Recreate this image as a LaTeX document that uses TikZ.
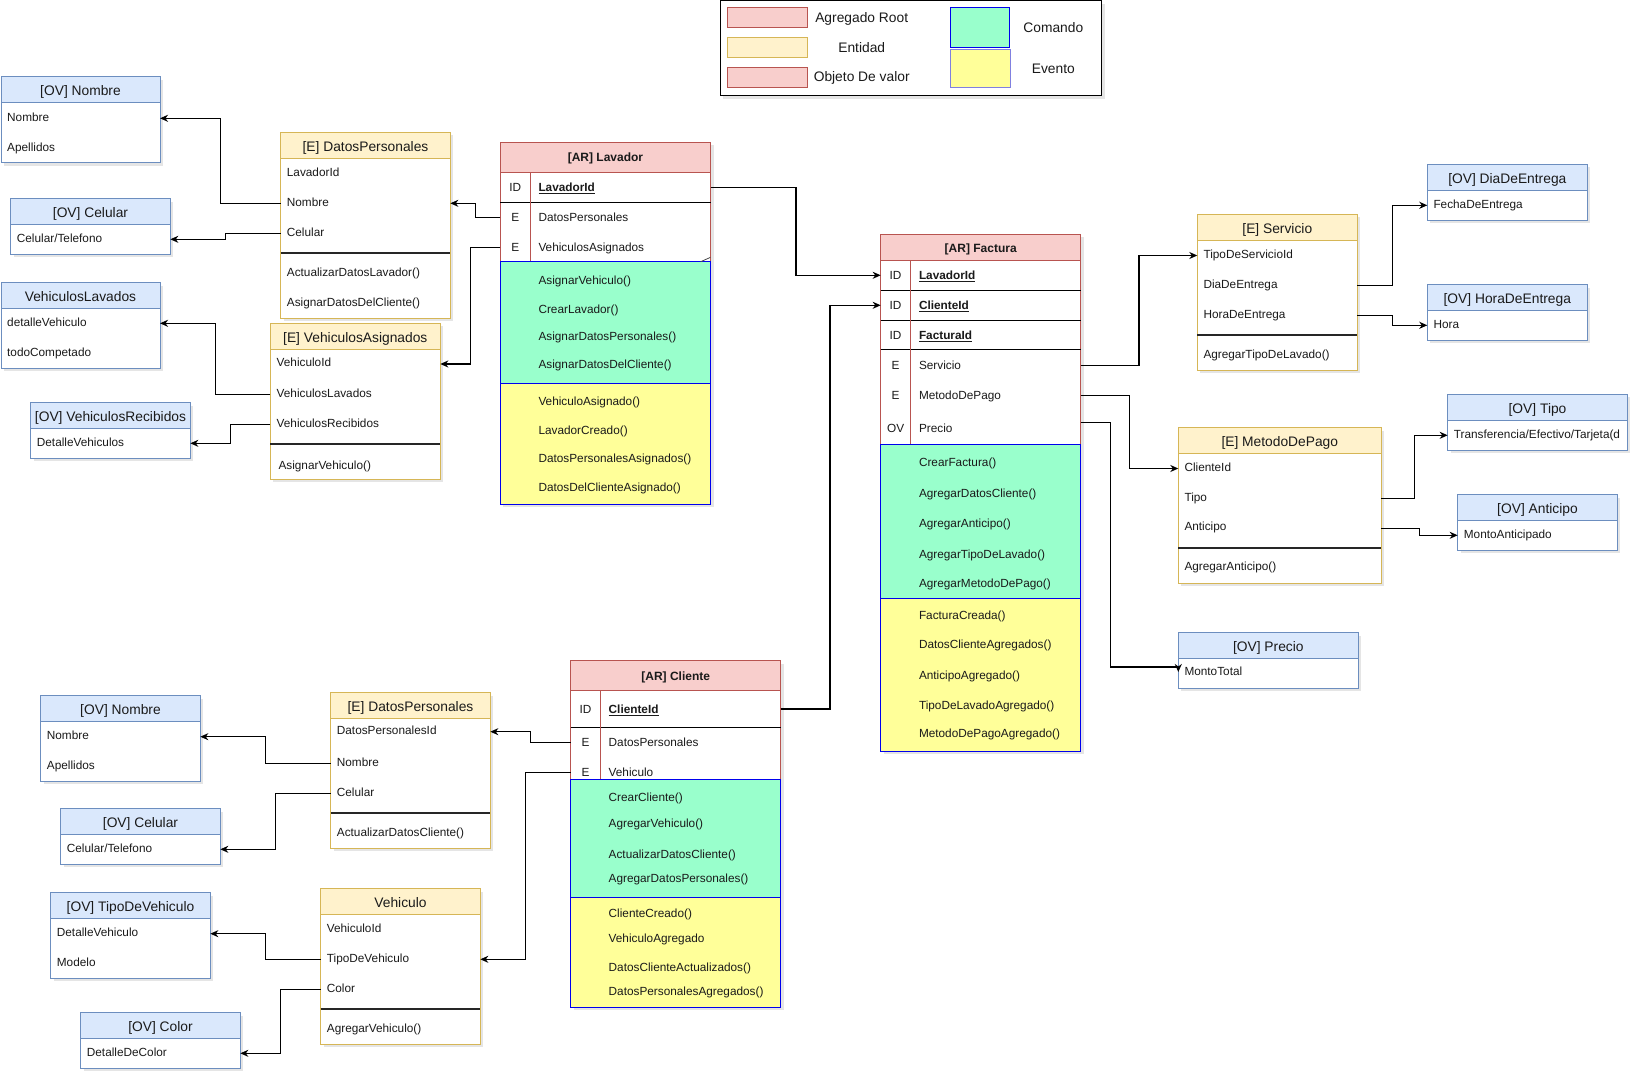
\documentclass[tikz,border=0pt]{standalone}
\usepackage{fontspec}
\setmainfont{Liberation Sans}
\usetikzlibrary{arrows.meta}

\definecolor{ovfill}{HTML}{DAE8FC}
\definecolor{ovline}{HTML}{6C8EBF}
\definecolor{efill}{HTML}{FFF2CC}
\definecolor{eline}{HTML}{D6B656}
\definecolor{arfill}{HTML}{F8CECC}
\definecolor{arline}{HTML}{B85450}
\definecolor{cmdfill}{HTML}{99FFCC}
\definecolor{cmdline}{HTML}{0000EE}
\definecolor{evtfill}{HTML}{FFFF99}
\definecolor{evtline}{HTML}{8080E0}
\definecolor{txt}{HTML}{1A1A1A}

\newcommand\rwfont{\fontsize{11.8}{14}\selectfont}
\newcommand\hdfont{\fontsize{13.8}{16}\selectfont}
\newcommand\arhdfont{\bfseries\fontsize{12}{14}\selectfont}

% value-object box: name, x1, y1, x2, y2, header bottom, title
\newcommand\ovbox[7]{%
  \fill[boxshadow] (#2+3,#3+3) rectangle (#4+3,#5+3);
  \node[box, draw=ovline, fill=white, minimum width={#4-#2}, minimum height={#5-#3}]
    (#1) at ({(#2+#4)/2},{(#3+#5)/2}) {};
  \node[box, draw=ovline, fill=ovfill, minimum width={#4-#2}, minimum height={#6-#3}, ttl]
    (#1-h) at ({(#2+#4)/2},{(#3+#6)/2}) {#7};
}
% entity box: name, x1, y1, x2, y2, header bottom, title, separator
\newcommand\entbox[8]{%
  \fill[boxshadow] (#2+3,#3+3) rectangle (#4+3,#5+3);
  \node[box, draw=eline, fill=white, minimum width={#4-#2}, minimum height={#5-#3}]
    (#1) at ({(#2+#4)/2},{(#3+#5)/2}) {};
  \node[box, draw=eline, fill=efill, minimum width={#4-#2}, minimum height={#6-#3}, ttl]
    (#1-h) at ({(#2+#4)/2},{(#3+#6)/2}) {#7};
  \draw[sepline] (#2,#8) -- (#4,#8);
}

\begin{document}
\begin{tikzpicture}[x=1pt,y=-1pt,
  box/.style={inner sep=0pt, outer sep=0pt, line width=1pt},
  boxshadow/.style={fill=black, opacity=0.10},
  ttl/.style={font=\hdfont, text=txt, text height=12pt, text depth=0.2pt},
  arttl/.style={font=\arhdfont, text=txt, text height=9.6pt, text depth=0.2pt},
  row/.style={anchor=west, inner sep=0pt, font=\rwfont, text=txt, text height=8.5pt, text depth=3pt},
  arow/.style={anchor=west, inner sep=0pt, font=\rwfont, text=txt, text height=8.5pt, text depth=0pt},
  cell/.style={anchor=center, inner sep=0pt, font=\rwfont, text=txt, text height=8.5pt, text depth=0pt},
  lgtxt/.style={anchor=center, inner sep=0pt, font=\hdfont, text=txt},
  sepline/.style={line width=2pt, black!85},
  idline/.style={line width=1pt, black},
  arr/.style={line width=1.3pt, black, -{Stealth[length=8pt,width=7pt,inset=2.5pt]}}
]
\useasboundingbox (0,0) rectangle (1639,1083);
\fill[white] (0,0) rectangle (1639,1083);

% ---------------- legend ----------------
\fill[boxshadow] (723,4) rectangle (1104.7,98.7);
\node[box, draw=black, fill=white, minimum width=381.7, minimum height=94.7] (legend) at (910.85,48.35) {};
\node[box, draw=arline, fill=arfill, minimum width=80, minimum height=20] (lg-ar) at (767.3,17.3) {};
\node[lgtxt] (lg-ar-t) at (861.7,18.5) {Agregado Root};
\node[box, draw=eline, fill=efill, minimum width=80, minimum height=20] (lg-e) at (767.3,47.3) {};
\node[lgtxt] (lg-e-t) at (861.7,48) {Entidad};
\node[box, draw=arline, fill=arfill, minimum width=80, minimum height=20] (lg-ov) at (767.3,77.3) {};
\node[lgtxt] (lg-ov-t) at (861.7,78) {Objeto De valor};
\node[box, draw=cmdline, fill=cmdfill, minimum width=59.4, minimum height=40] (lg-c) at (980,27.3) {};
\node[lgtxt] (lg-c-t) at (1053.3,28) {Comando};
\node[box, draw=evtline, fill=evtfill, minimum width=59.3, minimum height=37.3] (lg-v) at (980.35,68.65) {};
\node[lgtxt] (lg-v-t) at (1053.3,69) {Evento};

% ---------------- value objects ----------------
\ovbox{ovN1}{1}{77}{160}{163}{103}{[OV] Nombre}
\node[row] (n1-nom) at (7,118.3) {Nombre};
\node[row] (n1-ape) at (7,148.3) {Apellidos};

\ovbox{ovC1}{10.7}{198.7}{170.3}{254.3}{224.3}{[OV] Celular}
\node[row] (c1-cel) at (16.7,239.3) {Celular/Telefono};

\ovbox{ovVL}{1}{282.7}{160}{368.3}{308.3}{VehiculosLavados}
\node[row] (vl-det) at (7,323.3) {detalleVehiculo};
\node[row] (vl-tod) at (7,353.3) {todoCompetado};

\ovbox{ovVR}{30.7}{402.7}{190.3}{458.3}{428.3}{[OV] VehiculosRecibidos}
\node[row] (vr-det) at (36.7,443.3) {DetalleVehiculos};

\ovbox{ovDia}{1427.3}{164.3}{1587.3}{220.3}{190.3}{[OV] DiaDeEntrega}
\node[row] (dia-f) at (1433.3,205.3) {FechaDeEntrega};

\ovbox{ovHora}{1427.3}{284.7}{1587.3}{340.3}{310.7}{[OV] HoraDeEntrega}
\node[row] (hora-h) at (1433.3,325.3) {Hora};

\ovbox{ovTipo}{1447.7}{394.3}{1627.3}{450.3}{420.3}{[OV] Tipo}
\begin{scope}
  \clip (1448.3,421) rectangle (1624.5,449.7);
  \node[row] (tipo-t) at (1453.7,435.3) {Transferencia/Efectivo/Tarjeta(d};
\end{scope}

\ovbox{ovAnt}{1457.7}{494.7}{1617.3}{550.3}{520.3}{[OV] Anticipo}
\node[row] (ant-m) at (1463.7,535.3) {MontoAnticipado};

\ovbox{ovP}{1178.3}{632.7}{1358.3}{688}{658.3}{[OV] Precio}
\node[row] (p-monto) at (1184.3,673.2) {MontoTotal};

\ovbox{ovN2}{40.7}{695.7}{200.3}{781.3}{721.7}{[OV] Nombre}
\node[row] (n2-nom) at (46.7,736.7) {Nombre};
\node[row] (n2-ape) at (46.7,766.3) {Apellidos};

\ovbox{ovC2}{60.7}{808.7}{220.3}{864}{834.3}{[OV] Celular}
\node[row] (c2-cel) at (66.7,849.3) {Celular/Telefono};

\ovbox{ovTV}{50.7}{892.7}{210.3}{978.3}{918.7}{[OV] TipoDeVehiculo}
\node[row] (tv-det) at (56.7,933.7) {DetalleVehiculo};
\node[row] (tv-mod) at (56.7,963.3) {Modelo};

\ovbox{ovCol}{80.7}{1012.7}{240.3}{1068.3}{1038.7}{[OV] Color}
\node[row] (col-det) at (86.7,1053.3) {DetalleDeColor};

% ---------------- entities ----------------
\entbox{eDP1}{280.7}{132.3}{450.3}{318.3}{158.3}{[E] DatosPersonales}{253.3}
\node[row] (dp1-lav) at (286.7,173.3) {LavadorId};
\node[row] (dp1-nom) at (286.7,203.3) {Nombre};
\node[row] (dp1-cel) at (286.7,233.3) {Celular};
\node[row] (dp1-act) at (286.7,273.3) {ActualizarDatosLavador()};
\node[row] (dp1-asi) at (286.7,303.3) {AsignarDatosDelCliente()};

\entbox{eVA}{270.3}{323.3}{440.3}{479.3}{349.3}{[E] VehiculosAsignados}{444.3}
\node[row] (va-vid) at (276.5,364) {VehiculoId};
\node[row] (va-vl) at (276.5,394.3) {VehiculosLavados};
\node[row] (va-vr) at (276.5,424.3) {VehiculosRecibidos};
\node[row] (va-asi) at (278.3,466.5) {AsignarVehiculo()};

\entbox{eServ}{1197.3}{214.3}{1357.3}{370.3}{240.7}{[E] Servicio}{335}
\node[row] (sv-tipo) at (1203.3,255.5) {TipoDeServicioId};
\node[row] (sv-dia) at (1203.3,285.3) {DiaDeEntrega};
\node[row] (sv-hora) at (1203.3,315.3) {HoraDeEntrega};
\node[row] (sv-agr) at (1203.3,355.5) {AgregarTipoDeLavado()};

\entbox{eMP}{1178.3}{427.7}{1381.3}{583.3}{453.3}{[E] MetodoDePago}{548.3}
\node[row] (mp-cid) at (1184.3,468.5) {ClienteId};
\node[row] (mp-tipo) at (1184.3,498.3) {Tipo};
\node[row] (mp-ant) at (1184.3,528.2) {Anticipo};
\node[row] (mp-agr) at (1184.3,568.2) {AgregarAnticipo()};

\entbox{eDP2}{330.7}{692.7}{490.3}{848.3}{718.7}{[E] DatosPersonales}{813.3}
\node[row] (dp2-id) at (336.7,731.7) {DatosPersonalesId};
\node[row] (dp2-nom) at (336.7,763.3) {Nombre};
\node[row] (dp2-cel) at (336.7,793.3) {Celular};
\node[row] (dp2-act) at (336.7,833.3) {ActualizarDatosCliente()};

\entbox{eVeh}{320.7}{888.7}{480.3}{1044}{914.7}{Vehiculo}{1009.3}
\node[row] (veh-id) at (326.7,929.3) {VehiculoId};
\node[row] (veh-tipo) at (326.7,959.3) {TipoDeVehiculo};
\node[row] (veh-col) at (326.7,989.3) {Color};
\node[row] (veh-agr) at (326.7,1029.3) {AgregarVehiculo()};

% ---------------- [AR] Lavador ----------------
\fill[boxshadow] (503.3,145.3) rectangle (713.7,507);
\node[box, draw=arline, fill=white, minimum width=210.4, minimum height=361.7] (arL) at (605.5,323.15) {};
\node[box, draw=arline, fill=arfill, minimum width=210.4, minimum height=30, arttl] (arL-h) at (605.5,157.3) {[AR] Lavador};
\draw[idline] (500.3,202.3) -- (710.7,202.3);
\draw[arline, line width=1pt] (530.3,172.3) -- (530.3,262);
\node[box, draw=cmdline, fill=cmdfill, minimum width=210.4, minimum height=121.3] (arL-cmd) at (605.5,322.65) {};
\node[box, draw=cmdline, fill=evtfill, minimum width=210.4, minimum height=120.7] (arL-evt) at (605.5,443.65) {};
\draw[black!70, line width=0.8pt] (700.7,261.7) -- (710.5,257.3);
\node[cell] (L-c1) at (515.3,187.5) {ID};
\node[cell] (L-c2) at (515.3,217.5) {E};
\node[cell] (L-c3) at (515.3,247.5) {E};
\node[arow] (L-lid) at (538.3,187.5) {\underline{\textbf{LavadorId}}};
\node[arow] (L-dp) at (538.3,217.5) {DatosPersonales};
\node[arow] (L-va) at (538.3,247.5) {VehiculosAsignados};
\node[row] (L-m1) at (538.3,282.2) {AsignarVehiculo()};
\node[row] (L-m2) at (538.3,310.8) {CrearLavador()};
\node[row] (L-m3) at (538.3,337.5) {AsignarDatosPersonales()};
\node[row] (L-m4) at (538.3,365.5) {AsignarDatosDelCliente()};
\node[row] (L-e1) at (538.3,403.2) {VehiculoAsignado()};
\node[row] (L-e2) at (538.3,431.5) {LavadorCreado()};
\node[row] (L-e3) at (538.3,459.8) {DatosPersonalesAsignados()};
\node[row] (L-e4) at (538.3,489.2) {DatosDelClienteAsignado()};

% ---------------- [AR] Factura ----------------
\fill[boxshadow] (883.7,237.4) rectangle (1083.7,754);
\node[box, draw=arline, fill=white, minimum width=200, minimum height=516.6] (arF) at (980.7,492.7) {};
\node[box, draw=arline, fill=arfill, minimum width=200, minimum height=26, arttl] (arF-h) at (980.7,247.4) {[AR] Factura};
\draw[idline] (880.7,290.2) -- (1080.7,290.2);
\draw[idline] (880.7,320.2) -- (1080.7,320.2);
\draw[idline] (880.7,350) -- (1080.7,350);
\draw[arline, line width=1pt] (910.5,260.4) -- (910.5,444);
\node[box, draw=cmdline, fill=cmdfill, minimum width=200, minimum height=154.4] (arF-cmd) at (980.7,521.2) {};
\node[box, draw=cmdline, fill=evtfill, minimum width=200, minimum height=152.6] (arF-evt) at (980.7,674.7) {};
\node[cell] (F-c1) at (895.6,275.3) {ID};
\node[cell] (F-c2) at (895.6,305.3) {ID};
\node[cell] (F-c3) at (895.6,335.2) {ID};
\node[cell] (F-c4) at (895.6,365.3) {E};
\node[cell] (F-c5) at (895.6,395.7) {E};
\node[cell] (F-c6) at (895.6,428.6) {OV};
\node[arow] (F-lid) at (918.8,275.3) {\underline{\textbf{LavadorId}}};
\node[arow] (F-cid) at (918.8,305.3) {\underline{\textbf{ClienteId}}};
\node[arow] (F-fid) at (918.8,335.2) {\underline{\textbf{FacturaId}}};
\node[arow] (F-serv) at (918.8,365.3) {Servicio};
\node[arow] (F-mp) at (918.8,395.7) {MetodoDePago};
\node[arow] (F-pre) at (918.8,428.6) {Precio};
\node[row] (F-m1) at (918.8,463.3) {CrearFactura()};
\node[row] (F-m2) at (918.8,495) {AgregarDatosCliente()};
\node[row] (F-m3) at (918.8,525) {AgregarAnticipo()};
\node[row] (F-m4) at (918.8,555.3) {AgregarTipoDeLavado()};
\node[row] (F-m5) at (918.8,585.1) {AgregarMetodoDePago()};
\node[row] (F-e1) at (918.8,617) {FacturaCreada()};
\node[row] (F-e2) at (918.8,645.5) {DatosClienteAgregados()};
\node[row] (F-e3) at (918.8,677.2) {AnticipoAgregado()};
\node[row] (F-e4) at (918.8,707.2) {TipoDeLavadoAgregado()};
\node[row] (F-e5) at (918.8,734.7) {MetodoDePagoAgregado()};

% ---------------- [AR] Cliente ----------------
\fill[boxshadow] (573.7,663.7) rectangle (783.7,1010.3);
\node[box, draw=arline, fill=white, minimum width=210, minimum height=346.6] (arC) at (675.7,834) {};
\node[box, draw=arline, fill=arfill, minimum width=210, minimum height=30, arttl] (arC-h) at (675.7,675.7) {[AR] Cliente};
\draw[idline] (570.7,727.3) -- (780.7,727.3);
\draw[arline, line width=1pt] (600.3,690.7) -- (600.3,779.3);
\node[box, draw=cmdline, fill=cmdfill, minimum width=210, minimum height=118] (arC-cmd) at (675.7,838.3) {};
\node[box, draw=cmdline, fill=evtfill, minimum width=210, minimum height=110] (arC-evt) at (675.7,952.3) {};
\node[cell] (C-c1) at (585.5,709) {ID};
\node[cell] (C-c2) at (585.5,742.5) {E};
\node[cell] (C-c3) at (585.5,772.5) {E};
\node[arow] (C-cid) at (608.5,709) {\underline{\textbf{ClienteId}}};
\node[arow] (C-dp) at (608.5,742.5) {DatosPersonales};
\node[arow] (C-veh) at (608.5,772.5) {Vehiculo};
\node[row] (C-m1) at (608.5,798.5) {CrearCliente()};
\node[row] (C-m2) at (608.5,824.8) {AgregarVehiculo()};
\node[row] (C-m3) at (608.5,855.8) {ActualizarDatosCliente()};
\node[row] (C-m4) at (608.5,879.8) {AgregarDatosPersonales()};
\node[row] (C-e1) at (608.5,915.2) {ClienteCreado()};
\node[row] (C-e2) at (608.5,940.2) {VehiculoAgregado};
\node[row] (C-e3) at (608.5,969.2) {DatosClienteActualizados()};
\node[row] (C-e4) at (608.5,992.5) {DatosPersonalesAgregados()};

% ---------------- connectors ----------------
\draw[arr] (arL.east |- L-lid) -- ++(85.2,0) |- (arF.west |- F-lid);
\draw[arr] (arC.east |- C-cid) -- ++(49.3,0) |- (arF.west |- F-cid);
\draw[arr] (arL.west |- L-dp) -- ++(-25,0) |- (eDP1.east |- dp1-nom);
\draw[arr] (arL.west |- L-va) -- ++(-30,0) |- (eVA.east |- va-vid);
\draw[arr] (eDP1.west |- dp1-nom) -- ++(-60.4,0) |- (ovN1.east |- n1-nom);
\draw[arr] (eDP1.west |- dp1-cel) -- ++(-55,0) |- (ovC1.east |- c1-cel);
\draw[arr] (eVA.west |- va-vl) -- ++(-55,0) |- (ovVL.east |- vl-det);
\draw[arr] (eVA.west |- va-vr) -- ++(-40,0) |- (ovVR.east |- vr-det);
\draw[arr] (arF.east |- F-serv) -- ++(58.2,0) |- (eServ.west |- sv-tipo);
\draw[arr] (arF.east |- F-mp) -- ++(48.8,0) |- (eMP.west |- mp-cid);
\draw[arr] ([yshift=6.3pt]arF.east |- F-pre) -- ++(29.8,0) |- ([yshift=6.2pt]ovP.west |- p-monto) -- ++(0,5);
\draw[arr] (eServ.east |- sv-dia) -- ++(35,0) |- (ovDia.west |- dia-f);
\draw[arr] (eServ.east |- sv-hora) -- ++(35,0) |- (ovHora.west |- hora-h);
\draw[arr] (eMP.east |- mp-tipo) -- ++(33,0) |- (ovTipo.west |- tipo-t);
\draw[arr] (eMP.east |- mp-ant) -- ++(38,0) |- (ovAnt.west |- ant-m);
\draw[arr] (arC.west |- C-dp) -- ++(-40.4,0) |- (eDP2.east |- dp2-id);
\draw[arr] (arC.west |- C-veh) -- ++(-45.4,0) |- (eVeh.east |- veh-tipo);
\draw[arr] (eDP2.west |- dp2-nom) -- ++(-65,0) |- (ovN2.east |- n2-nom);
\draw[arr] (eDP2.west |- dp2-cel) -- ++(-55,0) |- (ovC2.east |- c2-cel);
\draw[arr] (eVeh.west |- veh-tipo) -- ++(-55,0) |- (ovTV.east |- tv-det);
\draw[arr] (eVeh.west |- veh-col) -- ++(-40,0) |- (ovCol.east |- col-det);
\end{tikzpicture}
\end{document}
